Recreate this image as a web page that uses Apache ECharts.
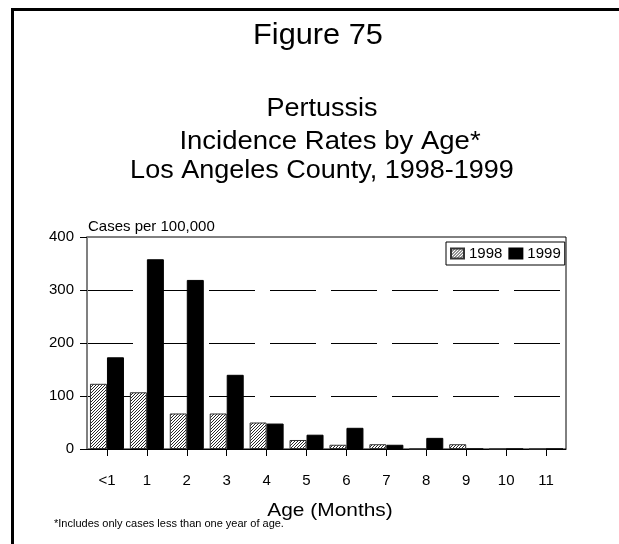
<!DOCTYPE html>
<html>
<head>
<meta charset="utf-8">
<script src="https://cdn.jsdelivr.net/npm/echarts@6/dist/echarts.min.js"></script>
<style>
html,body{margin:0;padding:0;background:#fff;}
#chart{width:619px;height:544px;}
</style>
</head>
<body>
<div id="chart"></div>
<script>
var categories = ['<1','1','2','3','4','5','6','7','8','9','10','11'];
var series1998 = [123, 107, 67, 67, 50, 17, 8, 9, 0, 9, 0, 0];
var series1999 = [173, 358, 319, 140, 48, 27, 40, 8, 21, 0, 0, 0];
var yTicks = [0, 100, 200, 300, 400];
var seriesNames = ['1998', '1999'];

var FONT = '"Liberation Sans", Arial, sans-serif';

// hatch pattern for 1998
var pc = document.createElement('canvas');
pc.width = 3; pc.height = 3;
var pctx = pc.getContext('2d');
pctx.fillStyle = '#ffffff';
pctx.fillRect(0, 0, 3, 3);
pctx.fillStyle = '#2a2a2a';
for (var px = 0; px < 3; px++) {
  for (var py = 0; py < 3; py++) {
    if ((px + py) % 3 === 0) pctx.fillRect(px, py, 1, 1);
  }
}
var hatch = { image: pc, repeat: 'repeat' };

var chart = echarts.init(document.getElementById('chart'), null, { renderer: 'canvas' });

function txt(text, x, y, size, align, sx) {
  return {
    type: 'text', x: x, y: y, scaleX: sx || 1, originX: 0, originY: 0,
    style: { text: text, fill: '#000', font: size + 'px ' + FONT, textAlign: align, textVerticalAlign: 'middle' },
    z: 10
  };
}

chart.setOption({
  backgroundColor: '#fff',
  animation: false,
  textStyle: { fontFamily: FONT },
  grid: { left: 87, right: 53, top: 237, bottom: 95, show: true, borderColor: '#000', borderWidth: 1, backgroundColor: 'transparent' },
  legend: {
    left: 446, top: 242, padding: [4, 4, 4, 4],
    icon: 'rect',
    itemWidth: 13, itemHeight: 10, itemGap: 6,
    borderColor: '#000', borderWidth: 1,
    textStyle: { fontSize: 15, color: '#000', fontFamily: FONT },
    data: seriesNames
  },
  xAxis: {
    type: 'category', data: categories,
    axisLine: { show: true, lineStyle: { color: '#000', width: 1 } },
    axisTick: { show: true, alignWithLabel: true, length: 7, lineStyle: { color: '#000' } },
    axisLabel: { fontSize: 15, color: '#000', margin: 24, fontFamily: FONT },
    splitLine: { show: false }
  },
  yAxis: {
    type: 'value', min: yTicks[0], max: yTicks[yTicks.length - 1], interval: 100,
    axisLine: { show: true, lineStyle: { color: '#808080', width: 2 } },
    axisTick: { show: true, length: 7, lineStyle: { color: '#000' } },
    axisLabel: { fontSize: 15, color: '#000', margin: 13, fontFamily: FONT },
    splitLine: { show: true, showMinLine: false, showMaxLine: false, lineStyle: { color: '#000', width: 1, type: [46, 15] } }
  },
  series: [
    {
      name: seriesNames[0], type: 'bar', data: series1998, barWidth: 17, barGap: '0%',
      itemStyle: { color: hatch, borderColor: '#333', borderWidth: 1 }
    },
    {
      name: seriesNames[1], type: 'bar', data: series1999, barWidth: 17, barGap: '0%',
      itemStyle: { color: '#000', borderColor: '#000', borderWidth: 1 }
    }
  ],
  graphic: [
    { type: 'rect', shape: { x: 12.5, y: 9.5, width: 700, height: 700 }, style: { fill: 'none', stroke: '#000', lineWidth: 3 }, silent: true, z: 10 },
    txt('Figure 75', 318, 35.5, 29, 'center', 1.06),
    txt('Pertussis', 322, 109.5, 25, 'center', 1.08),
    txt('Incidence Rates by Age*', 330, 142, 25, 'center', 1.1),
    txt('Los Angeles County, 1998-1999', 322, 171, 25, 'center', 1.08),
    txt('Cases per 100,000', 88, 226.4, 15, 'left', 1),
    txt('Age (Months)', 330, 511, 19, 'center', 1.1),
    txt('*Includes only cases less than one year of age.', 54, 523.5, 11, 'left', 1)
  ]
});
</script>
</body>
</html>
